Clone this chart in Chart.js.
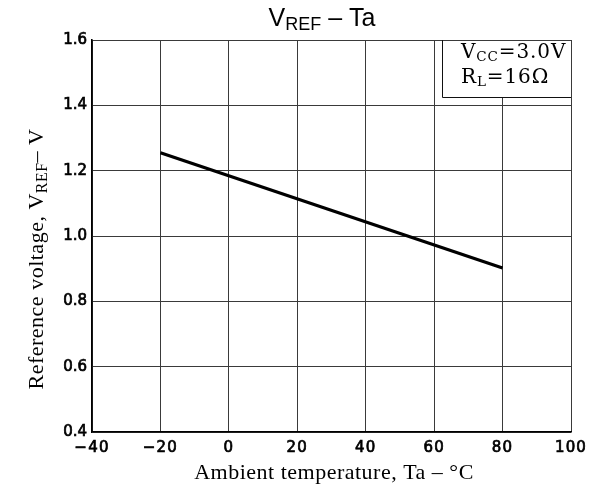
<!DOCTYPE html>
<html>
<head>
<meta charset="utf-8">
<script src="https://cdn.jsdelivr.net/npm/chart.js@4/dist/chart.umd.min.js"></script>
<style>
  html, body { margin: 0; padding: 0; background: #fff; }
  #wrap { width: 594px; height: 487px; position: relative; }
</style>
</head>
<body>
<div id="wrap"><canvas id="c" width="594" height="487"></canvas></div>
<script>
// Ambient temperature (°C) and reference voltage (V) at the ends of the characteristic
const temperature = [-20, 80];
const vref = [1.255, 0.902];

// Tick values for both axes
const xTicks = [-40, -20, 0, 20, 40, 60, 80, 100];
const yTicks = [0.4, 0.6, 0.8, 1.0, 1.2, 1.4, 1.6];

// Text with subscripts: parts are [text, isSub]
const titleParts = [['V', false], ['REF', true], [' \u2013 Ta', false]];
const yTitleParts = [['Reference voltage, V', false], ['REF', true], ['\u2013 V', false]];
const xTitle = 'Ambient temperature, Ta \u2013 \u00B0C';
const noteLines = [
  [['V', false], ['CC', true], ['=3.0V', false]],
  [['R', false], ['L', true], ['=16\u03A9', false]]
];

const SANS = '"Liberation Sans", Arial, sans-serif';
const SERIF = '"Liberation Serif", "Times New Roman", serif';
const NOTE_SERIF = '"DejaVu Serif", serif';
const TICK_FONT = '"DejaVu Sans", sans-serif';

function richWidth(ctx, parts, size, subSize, family) {
  let w = 0;
  for (const [t, sub] of parts) {
    ctx.font = (sub ? subSize : size) + 'px ' + family;
    w += ctx.measureText(t).width;
  }
  return w;
}
function drawRich(ctx, parts, x, y, size, subSize, family, subShift) {
  ctx.textBaseline = 'alphabetic';
  ctx.textAlign = 'left';
  let cx = x;
  for (const [t, sub] of parts) {
    ctx.font = (sub ? subSize : size) + 'px ' + family;
    ctx.fillText(t, cx, sub ? y + subShift : y);
    cx += ctx.measureText(t).width;
  }
}

// Wider letter spacing for the temperature tick labels
function spaceLabels(scale) {
  if (scale._spaced) return;
  scale._spaced = true;
  const orig = scale.drawLabels.bind(scale);
  scale.drawLabels = function (area) {
    const ctx = this.ctx;
    ctx.save();
    ctx.letterSpacing = '1.2px';
    orig(area);
    ctx.restore();
  };
}

const annotations = {
  id: 'annotations',
  afterDraw(chart) {
    const ctx = chart.ctx;
    const area = chart.chartArea;
    ctx.save();
    ctx.fillStyle = '#000';

    // Title
    const tw = richWidth(ctx, titleParts, 25, 18, SANS);
    drawRich(ctx, titleParts, 322 - tw / 2, 26, 25, 18, SANS, 4);

    // X axis title
    ctx.save();
    ctx.font = '22px ' + SERIF;
    ctx.letterSpacing = '0.5px';
    ctx.textAlign = 'center';
    ctx.textBaseline = 'alphabetic';
    ctx.fillText(xTitle, 334, 479);
    ctx.restore();

    // Y axis title (rotated)
    ctx.save();
    ctx.translate(43, 259);
    ctx.rotate(-Math.PI / 2);
    ctx.letterSpacing = '0.5px';
    const yw = richWidth(ctx, yTitleParts, 22, 16, SERIF);
    drawRich(ctx, yTitleParts, -yw / 2, 0, 22, 16, SERIF, 4);
    ctx.restore();

    // Condition box in the upper-right corner
    const bx = 442, by = area.top, bw = area.right - bx, bh = 57;
    ctx.fillStyle = '#fff';
    ctx.fillRect(bx, by + 1, bw - 1, bh - 1);
    ctx.strokeStyle = '#111';
    ctx.lineWidth = 1;
    ctx.beginPath();
    ctx.moveTo(bx + 0.5, by);
    ctx.lineTo(bx + 0.5, by + bh + 0.5);
    ctx.lineTo(area.right, by + bh + 0.5);
    ctx.stroke();
    ctx.fillStyle = '#000';
    ctx.letterSpacing = '0.9px';
    drawRich(ctx, noteLines[0], 461, 58, 20, 13.5, NOTE_SERIF, 3);
    drawRich(ctx, noteLines[1], 461, 83, 20, 13.5, NOTE_SERIF, 3);

    ctx.restore();
  }
};

new Chart(document.getElementById('c'), {
  type: 'scatter',
  data: {
    datasets: [{
      data: temperature.map((t, i) => ({ x: t, y: vref[i] })),
      showLine: true,
      borderColor: '#000',
      borderWidth: 3.2,
      pointRadius: 0,
      fill: false
    }]
  },
  options: {
    responsive: false,
    animation: false,
    devicePixelRatio: 1,
    layout: { padding: { top: 40, right: 23, left: 0, bottom: 0 } },
    plugins: { legend: { display: false }, title: { display: false }, tooltip: { enabled: false } },
    scales: {
      x: {
        type: 'linear',
        min: xTicks[0],
        max: xTicks[xTicks.length - 1],
        afterBuildTicks: s => { s.ticks = xTicks.map(v => ({ value: v })); },
        afterFit: s => { s.height = 55; },
        afterUpdate: spaceLabels,
        grid: { color: '#3a3a3a', lineWidth: 1, drawTicks: false },
        border: { color: '#000', width: 1.6 },
        ticks: {
          padding: 7,
          color: '#000',
          textStrokeColor: '#000',
          textStrokeWidth: 0.7,
          font: { family: TICK_FONT, size: 15 },
          maxRotation: 0,
          callback: v => (v < 0 ? '\u2212' + Math.abs(v) : String(v))
        }
      },
      y: {
        min: yTicks[0],
        max: yTicks[yTicks.length - 1],
        afterBuildTicks: s => { s.ticks = yTicks.map(v => ({ value: v })); },
        afterFit: s => { s.width = 92; },
        grid: { color: '#3a3a3a', lineWidth: 1, drawTicks: false },
        border: { color: '#000', width: 1.6 },
        ticks: {
          padding: 5,
          color: '#000',
          textStrokeColor: '#000',
          textStrokeWidth: 0.7,
          font: { family: TICK_FONT, size: 15 },
          callback: v => v.toFixed(1)
        }
      }
    }
  },
  plugins: [annotations]
});
</script>
</body>
</html>
